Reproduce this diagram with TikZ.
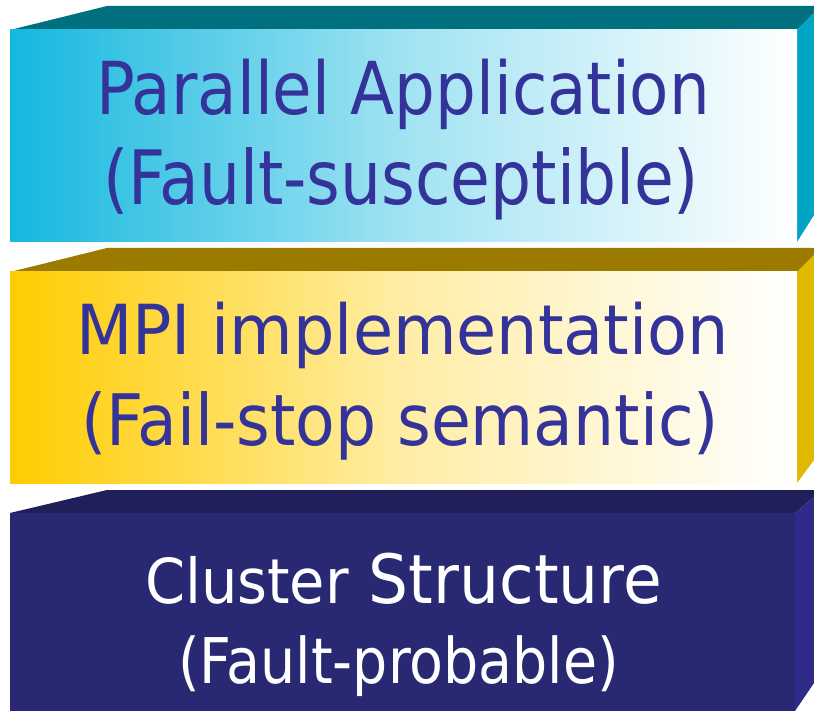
\documentclass[tikz,border=0pt]{standalone}
\usepackage{fontspec}
\setmainfont{DejaVu Sans}
\usepackage{graphicx}
\definecolor{cyanfront}{HTML}{14B8DF}
\definecolor{cyantop}{HTML}{00707F}
\definecolor{cyanside}{HTML}{00A5C5}
\definecolor{goldfront}{HTML}{FFCC00}
\definecolor{goldtop}{HTML}{9A7B00}
\definecolor{goldside}{HTML}{E0B800}
\definecolor{navyfront}{HTML}{292872}
\definecolor{navytop}{HTML}{201F5A}
\definecolor{navyside}{HTML}{2E2C88}
\definecolor{labelblue}{HTML}{333399}
\tikzset{
  lbl/.style={inner sep=0pt, outer sep=0pt, anchor=base west},
}
% fitted text: width in pt, font size in pt, text
\newcommand{\fittext}[3]{\resizebox{#1pt}{\height}{\fontsize{#2}{#2}\selectfont #3}}
\begin{document}
\begin{tikzpicture}[x=1pt,y=-1pt]
\useasboundingbox (0,0) rectangle (814,711);

% ---- top slab: application layer ----
\fill[cyantop] (10,30) -- (107,6) -- (814,6) -- (814,13) -- (797,30) -- cycle;
\fill[cyanside] (797,30) -- (814,13) -- (814,215) -- (797,242) -- cycle;
\shade[shading=axis, left color=cyanfront, right color=white, middle color=cyanfront!40!white]
  (10,30) rectangle (797,242);

% ---- middle slab: MPI layer ----
\fill[goldtop] (10,272) -- (107,248) -- (814,248) -- (814,255) -- (797,272) -- cycle;
\fill[goldside] (797,272) -- (814,255) -- (814,460) -- (797,483) -- cycle;
\shade[shading=axis, left color=goldfront, right color=white, middle color=goldfront!35!white]
  (10,272) rectangle (797,483);

% ---- bottom slab: cluster layer ----
\fill[navytop] (10,513) -- (107,490) -- (814,490) -- (814,497) -- (795,513) -- cycle;
\fill[navyside] (795,513) -- (814,497) -- (814,683) -- (795,711) -- cycle;
\fill[navyfront] (10,513) rectangle (795,711);

% ---- labels ----
\node[lbl, text=labelblue] (app1) at (96,115) {\fittext{614}{73}{Parallel Application}};
\node[lbl, text=labelblue] (app2) at (103,205) {\fittext{596}{75}{(Fault-susceptible)}};

\node[lbl, text=labelblue] (mpi1) at (76,355) {\fittext{653}{69}{MPI implementation}};
\node[lbl, text=labelblue] (mpi2) at (81,445) {\fittext{638}{71}{(Fail-stop semantic)}};

\node[lbl, text=white] (cl1) at (145,603)
  {\fittext{517}{68}{{\fontsize{62}{62}\selectfont Cluster} Structure}};
\node[lbl, text=white] (cl2) at (178,683) {\fittext{441}{63}{(Fault-probable)}};
\end{tikzpicture}
\end{document}
